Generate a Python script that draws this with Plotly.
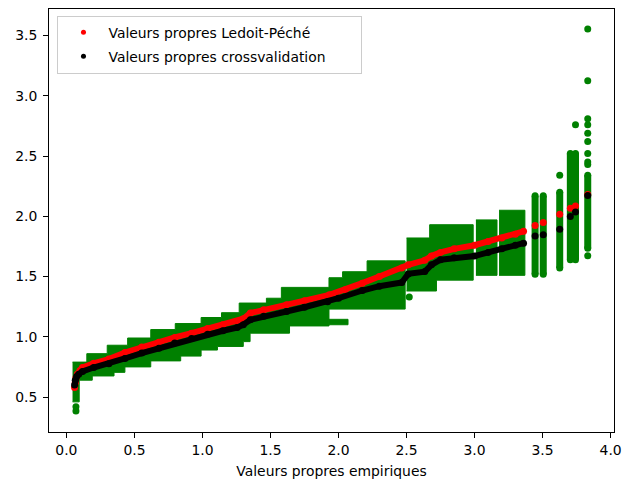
import plotly.graph_objects as go

# ---------------- data ----------------
# Ledoit-Peche eigenvalues (red) vs empirical eigenvalues
red_x = [0.06, 0.065, 0.07, 0.08, 0.10, 0.118, 0.20, 0.312, 0.43, 0.554, 0.68, 0.796, 0.92,
         1.038, 1.15, 1.255, 1.30, 1.352, 1.45, 1.618, 1.75, 1.933, 2.05, 2.175, 2.30, 2.465,
         2.513, 2.634, 2.683, 2.75, 2.85, 3.00, 3.10, 3.20, 3.30, 3.36,
         3.445, 3.505, 3.626, 3.704, 3.742, 3.832]
red_y = [0.58, 0.62, 0.66, 0.69, 0.72, 0.745, 0.78, 0.815, 0.87, 0.915, 0.955, 0.995, 1.03,
         1.068, 1.10, 1.127, 1.15, 1.197, 1.225, 1.265, 1.30, 1.348, 1.39, 1.445, 1.50, 1.57,
         1.597, 1.635, 1.67, 1.70, 1.73, 1.76, 1.79, 1.82, 1.85, 1.875,
         1.923, 1.948, 2.017, 2.067, 2.086, 2.18]

# crossvalidation eigenvalues (black)
blk_x = [0.06, 0.065, 0.075, 0.09, 0.118, 0.20, 0.312, 0.43, 0.554, 0.68, 0.796, 0.92,
         1.038, 1.15, 1.255, 1.30, 1.352, 1.45, 1.618, 1.75, 1.92, 2.00, 2.175, 2.30, 2.465,
         2.513, 2.634, 2.683, 2.75, 2.85, 3.00, 3.10, 3.20, 3.30, 3.36,
         3.445, 3.505, 3.626, 3.704, 3.742, 3.832]
blk_y = [0.60, 0.64, 0.67, 0.69, 0.712, 0.745, 0.776, 0.82, 0.865, 0.905, 0.948, 0.985,
         1.022, 1.05, 1.077, 1.10, 1.141, 1.17, 1.21, 1.245, 1.29, 1.32, 1.384, 1.42, 1.45,
         1.522, 1.541, 1.597, 1.64, 1.655, 1.67, 1.70, 1.73, 1.76, 1.777,
         1.837, 1.846, 1.893, 1.998, 2.036, 2.172]
DENSE_LIMIT = 3.4  # beyond this the points are isolated

# green crossvalidation folds: dense regions as step envelopes (x breakpoints, level per step)
green_blocks = [
    dict(top_x=[0.045, 0.15, 0.30, 0.45, 0.62, 0.80, 0.99, 1.14, 1.27, 1.47, 1.58, 1.93, 2.03, 2.21, 2.49],
         top_y=[0.79, 0.86, 0.93, 0.99, 1.06, 1.11, 1.16, 1.20, 1.28, 1.32, 1.41, 1.49, 1.54, 1.63],
         bot_x=[0.045, 0.094, 0.19, 0.35, 0.43, 0.62, 0.84, 0.99, 1.11, 1.30, 1.35, 1.64, 1.93, 2.49],
         bot_y=[0.46, 0.64, 0.675, 0.705, 0.75, 0.80, 0.84, 0.89, 0.92, 0.96, 1.03, 1.09, 1.23]),
    dict(top_x=[1.93, 2.07], top_y=[1.145], bot_x=[1.93, 2.07], bot_y=[1.10]),
    dict(top_x=[2.50, 2.67, 2.99], top_y=[1.82, 1.93], bot_x=[2.50, 2.72, 2.99], bot_y=[1.38, 1.47]),
    dict(top_x=[3.01, 3.165], top_y=[1.97], bot_x=[3.01, 3.165], bot_y=[1.51]),
    dict(top_x=[3.18, 3.37], top_y=[2.05], bot_x=[3.18, 3.37], bot_y=[1.51]),
]
# isolated columns of green points on the right
col_x = [3.445, 3.505, 3.626, 3.704, 3.742, 3.832]
col_lo = [1.52, 1.52, 1.57, 1.64, 1.64, 1.735]
col_hi = [2.17, 2.17, 2.20, 2.52, 2.52, 2.34]
# single green points
dot_x = [0.07, 0.07, 2.52, 3.626, 3.742, 3.832, 3.832, 3.832, 3.832, 3.832, 3.832, 3.832, 3.832, 3.832, 3.832]
dot_y = [0.42, 0.385, 1.33, 2.34, 2.76, 1.672, 2.43, 2.45, 2.52, 2.62, 2.69, 2.76, 2.81, 3.125, 3.554]

x_ticks = [0.0, 0.5, 1.0, 1.5, 2.0, 2.5, 3.0, 3.5, 4.0]
y_ticks = [0.5, 1.0, 1.5, 2.0, 2.5, 3.0, 3.5]

GREEN = "#008000"
FONT = "DejaVu Sans"
NB = "\u00a0"

fig = go.Figure()

# green dense regions (polygons built from the step envelopes)
for b in green_blocks:
    px, py = [], []
    for i, lvl in enumerate(b["top_y"]):
        px += [b["top_x"][i], b["top_x"][i + 1]]
        py += [lvl, lvl]
    for i in reversed(range(len(b["bot_y"]))):
        px += [b["bot_x"][i + 1], b["bot_x"][i]]
        py += [b["bot_y"][i], b["bot_y"][i]]
    fig.add_trace(go.Scatter(x=px, y=py, mode="lines", fill="toself", fillcolor=GREEN,
                             line=dict(color=GREEN, width=1), showlegend=False, hoverinfo="skip"))

# green columns
cx, cy = [], []
for x, lo, hi in zip(col_x, col_lo, col_hi):
    cx += [x, x, None]
    cy += [lo, hi, None]
fig.add_trace(go.Scatter(x=cx, y=cy, mode="lines+markers", line=dict(color=GREEN, width=7),
                         marker=dict(color=GREEN, size=7), showlegend=False, hoverinfo="skip"))
fig.add_trace(go.Scatter(x=dot_x, y=dot_y, mode="markers", marker=dict(color=GREEN, size=7),
                         showlegend=False, hoverinfo="skip"))

# red and black curves
for xs, ys, col in [(red_x, red_y, "red"), (blk_x, blk_y, "black")]:
    dx = [x for x in xs if x < DENSE_LIMIT]
    dy = [y for x, y in zip(xs, ys) if x < DENSE_LIMIT]
    fig.add_trace(go.Scatter(x=dx, y=dy, mode="lines", line=dict(color=col, width=6),
                             showlegend=False, hoverinfo="skip"))
    fig.add_trace(go.Scatter(x=xs, y=ys, mode="markers", marker=dict(color=col, size=7),
                             showlegend=False))

# legend entries
fig.add_trace(go.Scatter(x=[None], y=[None], mode="markers", marker=dict(color="red", size=5),
                         name="Valeurs propres Ledoit-Péché", legendgroup="a"))
fig.add_trace(go.Scatter(x=[None], y=[None], mode="markers", marker=dict(color="black", size=5),
                         name="Valeurs propres crossvalidation" + NB * 7, legendgroup="b"))

axis_common = dict(showline=True, linecolor="black", linewidth=1, mirror=True, ticks="outside",
                   ticklen=5, tickwidth=1, tickcolor="black", showgrid=False, zeroline=False,
                   ticklabeloverflow="allow",
                   tickfont=dict(family=FONT, size=13.9, color="black"))
fig.update_layout(
    width=629, height=483,
    margin=dict(l=49, r=7, t=9, b=51),
    paper_bgcolor="white", plot_bgcolor="white",
    font=dict(family=FONT, size=13.9, color="black"),
    xaxis=dict(range=[-0.128, 4.025], tickvals=x_ticks, tickformat=".1f",
               title=dict(text="Valeurs propres empiriques", font=dict(family=FONT, size=13.9),
                          standoff=9), **axis_common),
    yaxis=dict(range=[0.21, 3.72], tickvals=y_ticks, tickformat=".1f", ticklabelstandoff=3,
               **axis_common),
    legend=dict(x=0.015, y=0.984, xanchor="left", yanchor="top", bgcolor="rgba(255,255,255,0.8)",
                bordercolor="#cccccc", borderwidth=1, font=dict(family=FONT, size=13.9),
                traceorder="grouped", tracegroupgap=3, itemwidth=40),
)

fig.write_html("out.html")
